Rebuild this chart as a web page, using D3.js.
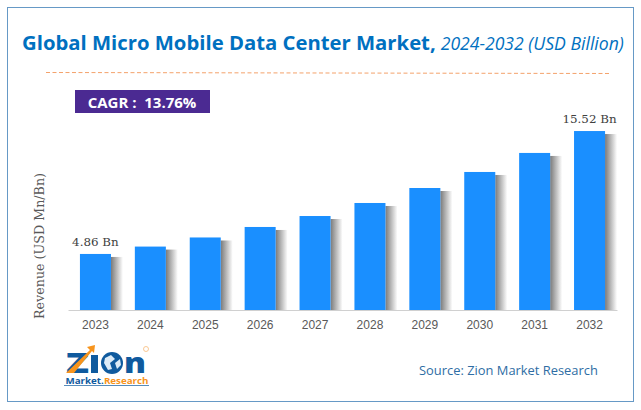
<!DOCTYPE html>
<html>
<head>
<meta charset="utf-8">
<script src="https://cdnjs.cloudflare.com/ajax/libs/d3/7.8.5/d3.min.js"></script>
<style>
  html, body { margin: 0; padding: 0; background: #fff; }
  svg { display: block; }
  text { font-family: "Open Sans", sans-serif; }
  .serif { font-family: "DejaVu Serif", serif; }
  .axis-year { font-family: "Liberation Sans", sans-serif; }
</style>
</head>
<body>
<div id="chart"></div>
<script>
// Values
const years = ['2023', '2024', '2025', '2026', '2027', '2028', '2029', '2030', '2031', '2032'];
const revenue = [4.86, 5.5, 6.29, 7.2, 8.15, 9.28, 10.58, 11.97, 13.62, 15.52];
const barLabels = ['4.86 Bn', '', '', '', '', '', '', '', '', '15.52 Bn'];

const width = 641, height = 410;
const baseY = 310;

const svg = d3.select('#chart').append('svg')
    .attr('width', width)
    .attr('height', height);

const defs = svg.append('defs');
const shadow = defs.append('linearGradient').attr('id', 'barShadow');
shadow.append('stop').attr('offset', '0%').attr('stop-color', '#7a7a7a');
shadow.append('stop').attr('offset', '100%').attr('stop-color', '#ffffff');

// Outer frame
svg.append('rect')
    .attr('x', 7.5).attr('y', 7.5)
    .attr('width', 626).attr('height', 394)
    .attr('fill', '#fff')
    .attr('stroke', '#6699c6')
    .attr('stroke-width', 1);

// Title
const title = svg.append('text')
    .attr('x', 22).attr('y', 50)
    .attr('fill', '#0070c0');
title.append('tspan')
    .attr('font-size', 20.3).attr('font-weight', 700)
    .text('Global Micro Mobile Data Center Market,');
title.append('tspan')
    .attr('dx', 5)
    .attr('font-size', 17.6).attr('font-style', 'italic')
    .text('2024-2032 (USD Billion)');

svg.append('line')
    .attr('x1', 46).attr('x2', 610)
    .attr('y1', 72.5).attr('y2', 73.5)
    .attr('stroke', '#f4a26b')
    .attr('stroke-width', 1)
    .attr('stroke-dasharray', '4 2.5');

// CAGR badge
svg.append('rect')
    .attr('x', 75).attr('y', 90)
    .attr('width', 135).attr('height', 23)
    .attr('fill', '#4b2a92');
svg.append('text')
    .attr('x', 142).attr('y', 107.5)
    .attr('text-anchor', 'middle')
    .attr('fill', '#fff')
    .attr('font-size', 15).attr('font-weight', 700)
    .attr('xml:space', 'preserve')
    .text('CAGR :  13.76%');

// Scales
const x = d3.scaleBand()
    .domain(years)
    .range([68, 617])
    .paddingInner(0.435)
    .paddingOuter(0.2175);

const y = d3.scaleLinear()
    .domain([0, 16])
    .range([baseY, baseY - 184.5]);

// Bars with the soft shadow on their right side
const bars = svg.append('g').selectAll('g')
    .data(years)
    .join('g');

bars.append('rect')
    .attr('x', d => x(d) + x.bandwidth())
    .attr('y', (d, i) => y(revenue[i]) + 3)
    .attr('width', 12)
    .attr('height', (d, i) => baseY - y(revenue[i]) - 3)
    .attr('fill', 'url(#barShadow)');

bars.append('rect')
    .attr('x', d => x(d))
    .attr('y', (d, i) => y(revenue[i]))
    .attr('width', x.bandwidth())
    .attr('height', (d, i) => baseY - y(revenue[i]))
    .attr('fill', '#1a8fff');

bars.append('text')
    .attr('class', 'serif')
    .attr('x', d => x(d) + x.bandwidth() / 2)
    .attr('y', (d, i) => y(revenue[i]) - 8)
    .attr('text-anchor', 'middle')
    .attr('fill', '#404040')
    .attr('font-size', 11.9)
    .text((d, i) => barLabels[i]);

// X axis
const xAxis = svg.append('g')
    .attr('transform', `translate(0,${baseY})`)
    .call(d3.axisBottom(x).tickSize(0).tickPadding(10));
xAxis.select('.domain').attr('stroke', '#d0d0d0');
xAxis.selectAll('text')
    .attr('class', 'axis-year')
    .attr('fill', '#595959')
    .attr('font-size', 12);

// Y axis title
svg.append('text')
    .attr('class', 'serif')
    .attr('transform', 'translate(44,246) rotate(-90)')
    .attr('text-anchor', 'middle')
    .attr('fill', '#595959')
    .attr('font-size', 12.7)
    .text('Revenue (USD Mn/Bn)');

// Logo
const logo = svg.append('g');
logo.append('text')
    .attr('x', 66).attr('y', 373)
    .attr('fill', '#0f5a9e')
    .attr('font-size', 28).attr('font-weight', 800)
    .attr('textLength', 23)
    .attr('lengthAdjust', 'spacingAndGlyphs')
    .text('Z');
logo.append('rect')
    .attr('x', 91).attr('y', 355)
    .attr('width', 7).attr('height', 18)
    .attr('fill', '#0f5a9e');
logo.append('path')
    .attr('d', 'M66,373 L90,350 L87,347 L95,345 L94,353 L92,351 L74,373 Z')
    .attr('fill', '#f7941d');
logo.append('circle')
    .attr('cx', 112).attr('cy', 363).attr('r', 11)
    .attr('fill', '#0f5a9e');
logo.append('path')
    .attr('d', 'M105,358 L111,355 L115,359 L110,363 L112,369 L108,370 L104,363 Z M115,363 L120,359 L121,365 L117,369 Z')
    .attr('fill', '#dcebf7');
logo.append('text')
    .attr('x', 124).attr('y', 373)
    .attr('fill', '#0f5a9e')
    .attr('font-size', 28).attr('font-weight', 800)
    .attr('textLength', 22)
    .attr('lengthAdjust', 'spacingAndGlyphs')
    .text('n');
logo.append('circle')
    .attr('cx', 146).attr('cy', 349).attr('r', 2.5)
    .attr('fill', 'none')
    .attr('stroke', '#f7b267')
    .attr('stroke-width', 0.7);
const logoLine = logo.append('text')
    .attr('x', 65.5).attr('y', 384)
    .attr('font-size', 9.5).attr('font-weight', 700)
    .attr('textLength', 83)
    .attr('lengthAdjust', 'spacingAndGlyphs');
logoLine.append('tspan').attr('fill', '#0f5a9e').text('Market.');
logoLine.append('tspan').attr('fill', '#f7941d').text('Research');
logo.append('line')
    .attr('x1', 64).attr('x2', 149)
    .attr('y1', 385.5).attr('y2', 385.5)
    .attr('stroke', '#0f5a9e')
    .attr('stroke-width', 0.7);

// Source
svg.append('text')
    .attr('x', 419).attr('y', 375)
    .attr('fill', '#2e6da4')
    .attr('font-size', 12.9)
    .text('Source: Zion Market Research');
</script>
</body>
</html>
